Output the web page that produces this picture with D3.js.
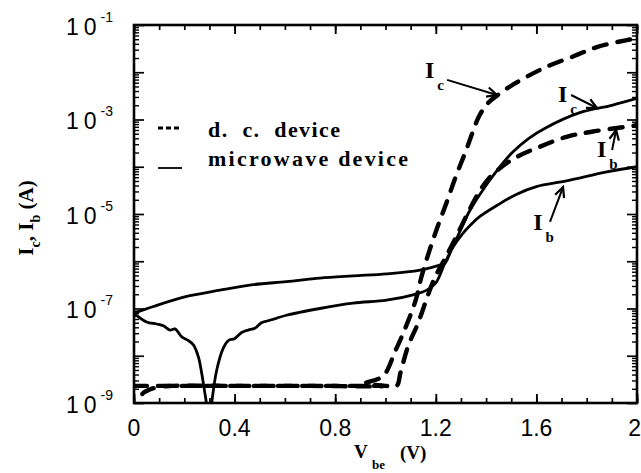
<!DOCTYPE html>
<html>
<head>
<meta charset="utf-8">
<script src="https://cdn.jsdelivr.net/npm/d3@7"></script>
<style>
  html, body { margin: 0; padding: 0; background: #fff; }
  svg { display: block; }
</style>
</head>
<body>
<svg id="chart" width="641" height="473"></svg>
<script>
// ---- Measured I-V data: base-emitter voltage (V) and current (A) ----
// d.c. device, collector current
const dcIcV = [0.012, 0.02, 0.035, 0.06, 0.1, 0.15, 0.4, 0.7, 0.995, 0.92, 0.99, 1.04, 1.08, 1.12, 1.143, 1.175, 1.206, 1.242, 1.28, 1.32, 1.373, 1.41, 1.443, 1.51, 1.63, 1.75, 1.84, 1.96, 2.0];
const dcIcA = [5e-10, 1e-9, 1.6e-9, 1.9e-9, 2.2e-9, 2.3e-9, 2.3e-9, 2.3e-9, 2.3e-9, 2.6e-9, 3.7e-9, 1.3e-8, 4.0e-8, 1.5e-7, 4.7e-7, 1.7e-6, 5.2e-6, 1.7e-5, 6.3e-5, 2.2e-4, 1.2e-3, 2.3e-3, 3.2e-3, 5.6e-3, 1.23e-2, 2.2e-2, 3.4e-2, 4.8e-2, 5.2e-2];
// d.c. device, base current
const dcIbV = [0, 0.4, 0.8, 1.0, 1.044, 1.06, 1.09, 1.13, 1.17, 1.20, 1.236, 1.28, 1.33, 1.37, 1.41, 1.50, 1.61, 1.72, 1.82, 1.97, 2.0];
const dcIbA = [2.3e-9, 2.3e-9, 2.3e-9, 2.3e-9, 2.3e-9, 4.5e-9, 1.6e-8, 5.0e-8, 2.0e-7, 5.0e-7, 1.12e-6, 3.2e-6, 1.12e-5, 2.8e-5, 5.6e-5, 1.38e-4, 2.6e-4, 4.3e-4, 5.5e-4, 7.2e-4, 7.6e-4];
// microwave device, collector current (|Ic|, changes sign near 0.3 V)
const mwIcV = [0, 0.05, 0.09, 0.117, 0.143, 0.163, 0.19, 0.216, 0.236, 0.256, 0.269, 0.282, 0.29, 0.299, 0.309, 0.329, 0.355, 0.375, 0.40, 0.428, 0.454, 0.48, 0.507, 0.533, 0.566, 0.606, 0.739, 0.871, 1.004, 1.11, 1.164, 1.20, 1.236, 1.28, 1.33, 1.373, 1.44, 1.504, 1.57, 1.64, 1.77, 1.90, 2.0];
const mwIcA = [7.9e-8, 5.2e-8, 4.7e-8, 4.3e-8, 3.5e-8, 3.7e-8, 2.5e-8, 2.1e-8, 1.7e-8, 9.5e-9, 4.3e-9, 1.6e-9, 8.3e-10, 2.5e-10, 1.0e-9, 5.0e-9, 1.45e-8, 2.1e-8, 2.3e-8, 3.1e-8, 3.5e-8, 3.8e-8, 5.0e-8, 5.5e-8, 6.2e-8, 7.2e-8, 1.0e-7, 1.3e-7, 1.5e-7, 1.95e-7, 2.45e-7, 3.5e-7, 9.1e-7, 2.8e-6, 1.05e-5, 2.5e-5, 7.9e-5, 2.0e-4, 4.0e-4, 6.8e-4, 1.38e-3, 2.0e-3, 2.8e-3];
// microwave device, base current
const mwIbV = [0, 0.077, 0.209, 0.342, 0.474, 0.606, 0.739, 0.871, 1.004, 1.137, 1.216, 1.236, 1.266, 1.306, 1.34, 1.373, 1.45, 1.52, 1.60, 1.72, 1.88, 2.0];
const mwIbA = [7.9e-8, 1.1e-7, 1.8e-7, 2.45e-7, 3.2e-7, 3.7e-7, 4.4e-7, 4.9e-7, 5.4e-7, 6.5e-7, 8.3e-7, 9.1e-7, 1.9e-6, 3.8e-6, 6.0e-6, 8.7e-6, 1.6e-5, 2.6e-5, 3.8e-5, 5.0e-5, 7.8e-5, 1.0e-4];

// ---- Axis ticks and labels ----
const xTickValues = [0, 0.4, 0.8, 1.2, 1.6, 2];
const xTickLabels = ["0", "0.4", "0.8", "1.2", "1.6", "2"];
const yLabelValues = [1e-1, 1e-3, 1e-5, 1e-7, 1e-9];
const yLabelExponents = ["-1", "-3", "-5", "-7", "-9"];

// ---- Legend ----
const legendLabels = ["d.  c.  device", "microwave device"];

// ---- Curve annotations (label anchor, arrow tail, arrow head) ----
const annMain = ["I", "I", "I", "I"];
const annSub = ["c", "c", "b", "b"];
const annLabelV = [1.157, 1.686, 1.841, 1.587];
const annLabelA = [7.6e-3, 2.3e-3, 1.6e-4, 4.6e-6];
const annTailV = [1.245, 1.738, 1.901, 1.654];
const annTailA = [6.9e-3, 3.3e-3, 2.26e-4, 6.8e-6];
const annHeadV = [1.443, 1.841, 1.917, 1.706];
const annHeadA = [3.3e-3, 1.75e-3, 6.0e-4, 3.7e-5];

// ---- Layout ----
const plot = { left: 134, right: 637, top: 25, bottom: 403 };
const sans = "'Liberation Sans', Arial, sans-serif";
const serif = "'Liberation Serif', 'Times New Roman', serif";

const x = d3.scaleLinear().domain([0, 2]).range([plot.left, plot.right]);
const y = d3.scaleLog().domain([1e-9, 1e-1]).range([plot.bottom, plot.top]);

const svg = d3.select("#chart");
svg.append("rect").attr("width", 641).attr("height", 473).attr("fill", "#fff");

svg.append("defs").append("clipPath").attr("id", "plotClip")
  .append("rect")
  .attr("x", plot.left).attr("y", plot.top)
  .attr("width", plot.right - plot.left).attr("height", plot.bottom - plot.top);

// ---- Tick marks on all four sides, pointing inward ----
const xMinor = d3.range(0, 21).map(i => i / 10);
const yMinor = [];
for (let e = -9; e <= -2; e++) for (let m = 2; m <= 9; m++) yMinor.push(m * Math.pow(10, e));
const yMajor = d3.range(-9, 0).map(e => Math.pow(10, e));

function ticks(axis, transform, width) {
  const g = svg.append("g").attr("transform", transform).call(axis);
  g.select(".domain").remove();
  g.selectAll("text").remove();
  g.selectAll("line").attr("stroke", "#000").attr("stroke-width", width);
}
ticks(d3.axisBottom(x).tickValues(xMinor).tickSize(-5), `translate(0,${plot.bottom})`, 1.7);
ticks(d3.axisBottom(x).tickValues(xTickValues).tickSize(-9), `translate(0,${plot.bottom})`, 1.9);
ticks(d3.axisTop(x).tickValues(xMinor).tickSize(-5), `translate(0,${plot.top})`, 1.7);
ticks(d3.axisTop(x).tickValues(xTickValues).tickSize(-9), `translate(0,${plot.top})`, 1.9);
ticks(d3.axisLeft(y).tickValues(yMinor).tickSize(-5), `translate(${plot.left},0)`, 1.4);
ticks(d3.axisLeft(y).tickValues(yMajor).tickSize(-10), `translate(${plot.left},0)`, 1.7);
ticks(d3.axisRight(y).tickValues(yMinor).tickSize(-5), `translate(${plot.right},0)`, 1.4);
ticks(d3.axisRight(y).tickValues(yMajor).tickSize(-10), `translate(${plot.right},0)`, 1.7);

// ---- Frame ----
svg.append("rect")
  .attr("x", plot.left).attr("y", plot.top)
  .attr("width", plot.right - plot.left).attr("height", plot.bottom - plot.top)
  .attr("fill", "none").attr("stroke", "#000").attr("stroke-width", 2.6);

// ---- Tick labels (the last one is kept inside the page edge) ----
svg.append("g").selectAll("text").data(xTickValues).join("text")
  .attr("x", (d, i) => i === xTickValues.length - 1 ? 641 : x(d))
  .attr("y", 436)
  .attr("text-anchor", (d, i) => i === xTickValues.length - 1 ? "end" : "middle")
  .attr("font-family", sans).attr("font-size", 23)
  .text((d, i) => xTickLabels[i]);

const yl = svg.append("g").selectAll("text").data(yLabelValues).join("text")
  .attr("x", 66).attr("y", d => y(d) + 9.5)
  .attr("font-family", sans).attr("font-size", 23);
yl.append("tspan").text("1");
yl.append("tspan").attr("dx", 5).text("0");
yl.append("tspan").attr("dx", 4).attr("dy", -13).attr("font-size", 14)
  .text((d, i) => yLabelExponents[i]);

// ---- Axis titles ----
const xt = svg.append("text").attr("font-family", serif).attr("font-weight", "bold")
  .attr("font-size", 19).attr("y", 458);
xt.append("tspan").attr("x", 354).text("V");
xt.append("tspan").attr("x", 372).attr("dy", 11).attr("font-size", 13).text("be");
xt.append("tspan").attr("x", 400).attr("dy", -10).text("(V)");

const yt = svg.append("text")
  .attr("transform", "translate(33,218) rotate(-90)")
  .attr("text-anchor", "middle")
  .attr("font-family", serif).attr("font-weight", "bold").attr("font-size", 21);
yt.append("tspan").text("I");
yt.append("tspan").attr("dy", 7).attr("font-size", 14).text("c");
yt.append("tspan").attr("dy", -7).text(", I");
yt.append("tspan").attr("dy", 7).attr("font-size", 14).text("b");
yt.append("tspan").attr("dy", -7).text(" (A)");

// ---- Curves ----
const line = d3.line()
  .x(d => x(d[0])).y(d => y(d[1]))
  .curve(d3.curveCatmullRom.alpha(0.5));
const zip = (vs, as) => vs.map((v, i) => [v, as[i]]);

const curves = svg.append("g").attr("clip-path", "url(#plotClip)")
  .attr("fill", "none").attr("stroke", "#000").attr("stroke-linejoin", "round");

curves.append("path").attr("d", line(zip(mwIbV, mwIbA))).attr("stroke-width", 2.8);
curves.append("path").attr("d", line(zip(mwIcV, mwIcA))).attr("stroke-width", 2.8);
curves.append("path").attr("d", line(zip(dcIbV, dcIbA)))
  .attr("stroke-width", 4.4).attr("stroke-dasharray", "13,11").attr("stroke-linecap", "round");
curves.append("path").attr("d", line(zip(dcIcV, dcIcA)))
  .attr("stroke-width", 4.4).attr("stroke-dasharray", "13,11").attr("stroke-linecap", "round");

// ---- Legend ----
svg.append("line").attr("x1", 158).attr("x2", 181).attr("y1", 128).attr("y2", 128)
  .attr("stroke", "#000").attr("stroke-width", 3).attr("stroke-dasharray", "5,3");
svg.append("line").attr("x1", 158).attr("x2", 182).attr("y1", 168).attr("y2", 168)
  .attr("stroke", "#000").attr("stroke-width", 1.8);
svg.append("g").selectAll("text").data(legendLabels).join("text")
  .attr("x", 208).attr("y", (d, i) => i === 0 ? 137 : 166)
  .attr("font-family", serif).attr("font-weight", "bold").attr("font-size", 22)
  .attr("textLength", (d, i) => i === 0 ? 132 : 200).attr("lengthAdjust", "spacing")
  .style("white-space", "pre")
  .text(d => d);

// ---- Annotations with open arrowheads ----
const ann = svg.append("g");
annMain.forEach((m, i) => {
  const lx = x(annLabelV[i]), ly = y(annLabelA[i]);
  const t = ann.append("text").attr("x", lx).attr("y", ly)
    .attr("font-family", serif).attr("font-weight", "bold").attr("font-size", 24);
  t.append("tspan").text(m);
  t.append("tspan").attr("dx", 3).attr("dy", 12).attr("font-size", 15).text(annSub[i]);

  const x0 = x(annTailV[i]), y0 = y(annTailA[i]);
  const x1 = x(annHeadV[i]), y1 = y(annHeadA[i]);
  ann.append("line").attr("x1", x0).attr("y1", y0).attr("x2", x1).attr("y2", y1)
    .attr("stroke", "#000").attr("stroke-width", 2);
  const ang = Math.atan2(y1 - y0, x1 - x0), len = 11, spread = 0.45;
  const head = d3.path();
  head.moveTo(x1 - len * Math.cos(ang - spread), y1 - len * Math.sin(ang - spread));
  head.lineTo(x1, y1);
  head.lineTo(x1 - len * Math.cos(ang + spread), y1 - len * Math.sin(ang + spread));
  ann.append("path").attr("d", head.toString())
    .attr("fill", "none").attr("stroke", "#000").attr("stroke-width", 2.2)
    .attr("stroke-linejoin", "miter");
});
</script>
</body>
</html>
